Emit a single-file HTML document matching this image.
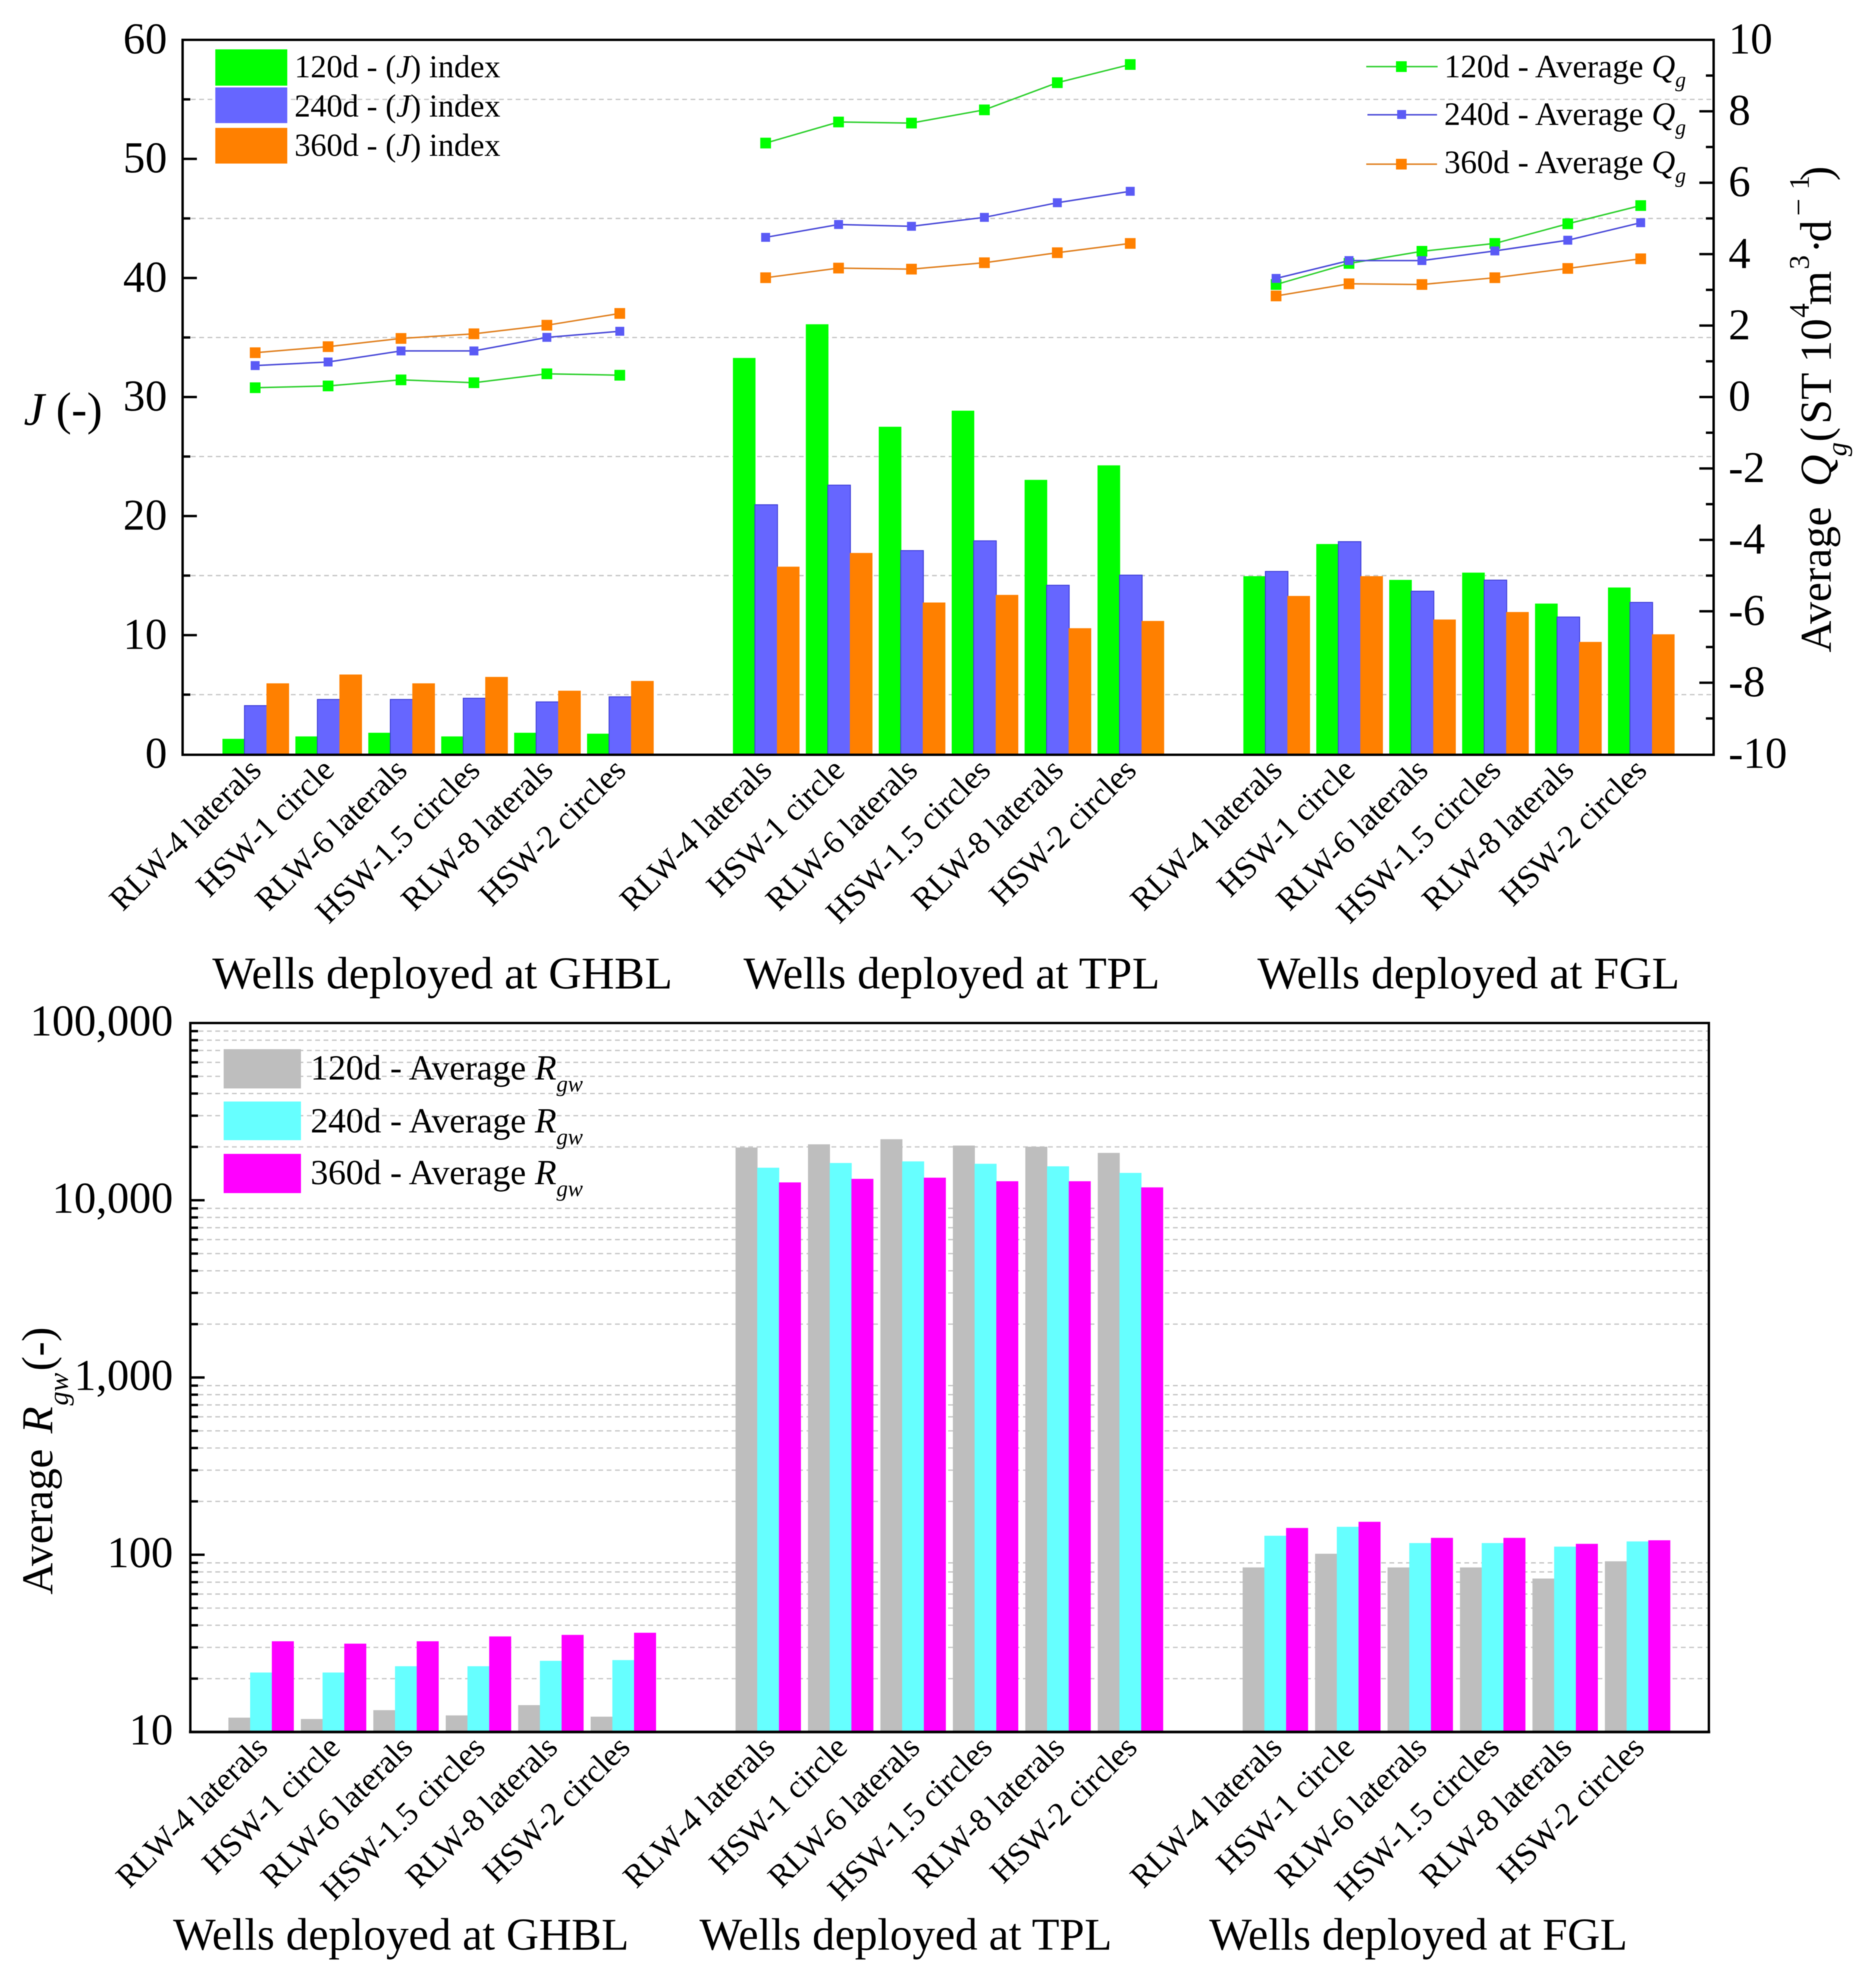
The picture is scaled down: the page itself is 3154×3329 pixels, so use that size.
<!DOCTYPE html>
<html lang="en">
<head>
<meta charset="utf-8">
<title>J index, average Qg and average Rgw for wells at GHBL, TPL and FGL</title>
<style>
  html, body { margin: 0; padding: 0; background: #ffffff; }
  svg { display: block; filter: blur(0.7px); }
  text { font-family: "Liberation Serif", serif; fill: #000000; }
  .lj { font-size: 54px; }
  .lg { font-size: 55px; }
  .lr { font-size: 59.5px; }
  .gt { font-size: 76.5px; }
  .gb { font-size: 75.8px; }
  .at { font-size: 74px; }
</style>
</head>
<body>
<svg id="figure" xmlns="http://www.w3.org/2000/svg" width="3154" height="3329" viewBox="0 0 3154 3329">
  <rect x="0" y="0" width="3154" height="3329" fill="#ffffff"/>
  <g id="grid-layer"></g>
  <g id="bar-layer"></g>
  <g id="line-layer"></g>
  <g id="axis-layer"></g>
  <g id="label-layer"></g>

  <g>
    <rect x="362" y="83" width="121" height="61" fill="#00ff00"/>
    <rect x="362" y="147" width="121" height="60" fill="#6666ff"/>
    <rect x="362" y="215" width="121" height="60" fill="#ff8000"/>
    <text class="lj" x="495" y="130">120d - (<tspan font-style="italic">J</tspan>) index</text>
    <text class="lj" x="495" y="196">240d - (<tspan font-style="italic">J</tspan>) index</text>
    <text class="lj" x="495" y="262">360d - (<tspan font-style="italic">J</tspan>) index</text>
  </g>

  <g>
    <line x1="2297" y1="112" x2="2417" y2="112" stroke="#2fd02f" stroke-width="2.5"/>
    <rect x="2347" y="103" width="18" height="18" fill="#00ff00"/>
    <line x1="2299" y1="193" x2="2416" y2="193" stroke="#4a4ad8" stroke-width="2.5"/>
    <rect x="2349" y="185" width="15" height="15" fill="#5a5af5"/>
    <line x1="2297" y1="276" x2="2416" y2="276" stroke="#e08020" stroke-width="2.5"/>
    <rect x="2347" y="267" width="18" height="18" fill="#ff8000"/>
    <text class="lg" x="2428" y="130">120d - Average <tspan font-style="italic">Q</tspan><tspan font-style="italic" font-size="36" dy="16">g</tspan></text>
    <text class="lg" x="2428" y="210">240d - Average <tspan font-style="italic">Q</tspan><tspan font-style="italic" font-size="36" dy="16">g</tspan></text>
    <text class="lg" x="2428" y="291">360d - Average <tspan font-style="italic">Q</tspan><tspan font-style="italic" font-size="36" dy="16">g</tspan></text>
  </g>

  <g>
    <rect x="376" y="1764" width="130" height="66" fill="#bebebe"/>
    <rect x="376" y="1852" width="130" height="65" fill="#66ffff"/>
    <rect x="376" y="1940" width="130" height="66" fill="#ff00ff"/>
    <text class="lr" x="522" y="1815">120d - Average <tspan font-style="italic">R</tspan><tspan font-style="italic" font-size="38" dy="20">gw</tspan></text>
    <text class="lr" x="522" y="1904">240d - Average <tspan font-style="italic">R</tspan><tspan font-style="italic" font-size="38" dy="20">gw</tspan></text>
    <text class="lr" x="522" y="1991">360d - Average <tspan font-style="italic">R</tspan><tspan font-style="italic" font-size="38" dy="20">gw</tspan></text>
  </g>

  <text font-size="78" x="40" y="714"><tspan font-style="italic">J</tspan> (-)</text>

  <text class="at" transform="translate(3078 1097) rotate(-90)"><tspan x="0" y="0">Average</tspan><tspan x="279" y="0" font-style="italic">Q</tspan><tspan x="330" y="26" font-style="italic" font-size="47">g</tspan><tspan x="354" y="0">(</tspan><tspan x="384" y="0">ST 10</tspan><tspan x="563" y="-37" font-size="48">4</tspan><tspan x="584" y="0">m</tspan><tspan x="644" y="-37" font-size="48">3</tspan><tspan x="671" y="0">·</tspan><tspan x="690" y="0">d</tspan><tspan x="734" y="-37" font-size="52">−</tspan><tspan x="778" y="-37" font-size="48">1</tspan><tspan x="793" y="0">)</tspan></text>

  <text class="at" transform="translate(88 2681) rotate(-90)"><tspan x="0" y="0">Average</tspan><tspan x="271" y="0" font-style="italic">R</tspan><tspan x="318" y="26" font-style="italic" font-size="47">gw</tspan><tspan x="376" y="0">(-)</tspan></text>

  <text class="gt" x="357" y="1662">Wells deployed at GHBL</text>
  <text class="gt" x="1250" y="1662">Wells deployed at TPL</text>
  <text class="gt" x="2114" y="1662">Wells deployed at FGL</text>
  <text class="gb" x="291" y="3278">Wells deployed at GHBL</text>
  <text class="gb" x="1176" y="3278">Wells deployed at TPL</text>
  <text class="gb" x="2033" y="3278">Wells deployed at FGL</text>
</svg>

<script>
// ---- Data ----
const wellCategories = ['RLW-4 laterals', 'HSW-1 circle', 'RLW-6 laterals', 'HSW-1.5 circles', 'RLW-8 laterals', 'HSW-2 circles'];
const deploymentGroups = ['GHBL', 'TPL', 'FGL'];

const jIndex120d = [1.29, 1.49, 1.80, 1.49, 1.80, 1.72, 33.28, 36.11, 27.50, 28.85, 23.04, 24.26, 14.95, 17.65, 14.64, 15.25, 12.65, 14.00];
const jIndex240d = [4.08, 4.60, 4.60, 4.70, 4.39, 4.82, 20.95, 22.60, 17.10, 17.92, 14.19, 15.04, 15.35, 17.85, 13.69, 14.62, 11.52, 12.75];
const jIndex360d = [5.95, 6.69, 5.95, 6.49, 5.33, 6.15, 15.75, 16.90, 12.74, 13.38, 10.58, 11.19, 13.29, 14.95, 11.31, 11.94, 9.43, 10.07];

const qg120d = [0.26, 0.31, 0.48, 0.40, 0.65, 0.61, 7.11, 7.70, 7.67, 8.04, 8.80, 9.31, 3.15, 3.74, 4.08, 4.30, 4.85, 5.36];
const qg240d = [0.88, 0.98, 1.29, 1.29, 1.67, 1.84, 4.47, 4.83, 4.78, 5.03, 5.44, 5.76, 3.32, 3.82, 3.82, 4.09, 4.39, 4.88];
const qg360d = [1.24, 1.41, 1.64, 1.77, 2.01, 2.34, 3.34, 3.61, 3.58, 3.76, 4.04, 4.30, 2.83, 3.17, 3.15, 3.34, 3.60, 3.87];

const rgw120d = [12.05, 11.84, 13.28, 12.4, 14.17, 12.2, 19840, 20680, 22100, 20350, 20050, 18500, 84.8, 101.3, 84.8, 84.8, 73.4, 91.8];
const rgw240d = [21.65, 21.65, 23.5, 23.5, 25.2, 25.45, 15260, 16230, 16570, 16060, 15540, 14270, 128, 143.8, 116.4, 116.4, 111.1, 118.9];
const rgw360d = [32.5, 31.5, 32.5, 34.6, 35.3, 36.3, 12610, 13210, 13410, 12800, 12800, 11820, 141.6, 153.4, 124.5, 124.5, 115.2, 120.7];

const jTicks = [0, 10, 20, 30, 40, 50, 60];
const jMinorTicks = [5, 15, 25, 35, 45, 55];
const qgTicks = [-10, -8, -6, -4, -2, 0, 2, 4, 6, 8, 10];
const qgMinorTicks = [-9, -7, -5, -3, -1, 1, 3, 5, 7, 9];
const rgwTicks = [10, 100, 1000, 10000, 100000];
const rgwTickLabels = ['10', '100', '1,000', '10,000', '100,000'];
const rgwMinorMultipliers = [2, 3, 4, 5, 6, 7, 8, 9];

// ---- Plot geometry and axis functions ----
const NS = 'http://www.w3.org/2000/svg';
const topPlot = { left: 307, right: 2881, top: 67, bottom: 1268 };
const botPlot = { left: 320, right: 2873, top: 1720, bottom: 2912 };
const GROUP_SLOTS = 7;

function slotOf(seriesIndex) {
  const perGroup = wellCategories.length;
  const group = Math.floor(seriesIndex / perGroup);
  return group * GROUP_SLOTS + (seriesIndex % perGroup);
}
function xTop(i) { return 374 + 122.6 * slotOf(i); }
function xBot(i) { return 384 + 121.8 * slotOf(i); }
function yJ(v) { return topPlot.bottom - (v / 60) * (topPlot.bottom - topPlot.top); }
function yQ(v) { return topPlot.bottom - ((v + 10) / 20) * (topPlot.bottom - topPlot.top); }
function yR(v) { return botPlot.bottom - (Math.log10(v) - 1) / 4 * (botPlot.bottom - botPlot.top); }

function svgEl(tag, attrs, parentId) {
  const el = document.createElementNS(NS, tag);
  Object.keys(attrs).forEach(function (k) { el.setAttribute(k, attrs[k]); });
  document.getElementById(parentId).appendChild(el);
  return el;
}
function drawGrid(y, x1, x2, name) {
  const g = svgEl('line', { x1: x1, y1: y, x2: x2, y2: y, stroke: '#c6c6c6', 'stroke-width': 2.2, 'stroke-dasharray': '8 6' }, 'grid-layer');
  
  
}
function drawTick(x1, x2, y, width, name) {
  const t = svgEl('line', { x1: x1, y1: y, x2: x2, y2: y, stroke: '#000000', 'stroke-width': width }, 'axis-layer');
  
  
}
function drawAxisLine(x1, y1, x2, y2, width, name) {
  const a = svgEl('line', { x1: x1, y1: y1, x2: x2, y2: y2, stroke: '#000000', 'stroke-width': width, 'stroke-linecap': 'square' }, 'axis-layer');
  
  
}
function drawTickLabel(x, y, anchor, content, name) {
  const l = svgEl('text', { x: x, y: y, 'text-anchor': anchor, 'font-size': 74 }, 'label-layer');
  l.textContent = content;
  
  
}

// ---- Gridlines and ticks: top plot ----
jMinorTicks.forEach(function (v) {
  drawGrid(yJ(v), topPlot.left + 14, topPlot.right, 'j-gridline-' + v);
  drawTick(topPlot.left, topPlot.left + 13, yJ(v), 4, 'j-minor-tick-' + v);
});
jTicks.forEach(function (v) {
  if (v !== 0 && v !== 60) drawTick(topPlot.left, topPlot.left + 24, yJ(v), 4, 'j-major-tick-' + v);
  drawTickLabel(281, yJ(v) + 23, 'end', String(v), 'j-tick-label-' + v);
});
qgMinorTicks.forEach(function (v) {
  drawTick(topPlot.right - 13, topPlot.right, yQ(v), 4, 'qg-minor-tick-' + v);
});
qgTicks.forEach(function (v) {
  if (v !== -10 && v !== 10) drawTick(topPlot.right - 24, topPlot.right, yQ(v), 4, 'qg-major-tick-' + v);
  drawTickLabel(2906, yQ(v) + 23, 'start', String(v), 'qg-tick-label-' + v);
});

// ---- Gridlines and ticks: bottom plot ----
rgwTicks.forEach(function (v, idx) {
  if (v !== 10 && v !== 100000) drawTick(botPlot.left, botPlot.left + 24, yR(v), 4, 'rgw-major-tick-' + v);
  drawTickLabel(291, yR(v) + 21, 'end', rgwTickLabels[idx], 'rgw-tick-label-' + v);
  if (idx < rgwTicks.length - 1) {
    rgwMinorMultipliers.forEach(function (m) {
      const value = v * m;
      drawGrid(yR(value), botPlot.left + 14, botPlot.right, 'rgw-gridline-' + value);
      drawTick(botPlot.left, botPlot.left + 13, yR(value), 4, 'rgw-minor-tick-' + value);
    });
  }
});

// ---- Bars ----
const BAR_W_TOP = 38;
const BAR_STEP_TOP = 37;
const BAR_W_BOT = 37;
const BAR_STEP_BOT = 36.5;

function drawTopBars(values, offsetIndex, fill, stroke, label) {
  values.forEach(function (v, i) {
    const y = yJ(v);
    const bar = svgEl('rect', { x: xTop(i) + BAR_STEP_TOP * offsetIndex, y: y, width: BAR_W_TOP, height: topPlot.bottom - y, fill: fill, stroke: stroke, 'stroke-width': stroke === 'none' ? 0 : 1.5 }, 'bar-layer');
    
    
  });
}
function drawBottomBars(values, offsetIndex, fill, label) {
  values.forEach(function (v, i) {
    const y = yR(v);
    const bar = svgEl('rect', { x: xBot(i) + BAR_STEP_BOT * offsetIndex, y: y, width: BAR_W_BOT, height: botPlot.bottom - y, fill: fill }, 'bar-layer');
    
    
  });
}
drawTopBars(jIndex120d, 0, '#00ff00', 'none', '120d');
drawTopBars(jIndex240d, 1, '#6666ff', '#3d3dd6', '240d');
drawTopBars(jIndex360d, 2, '#ff8000', 'none', '360d');
drawBottomBars(rgw120d, 0, '#bebebe', '120d');
drawBottomBars(rgw240d, 1, '#66ffff', '240d');
drawBottomBars(rgw360d, 2, '#ff00ff', '360d');

// ---- Qg lines with square markers ----
function drawQgSeries(values, lineColor, markerColor, markerSize, label) {
  const perGroup = wellCategories.length;
  deploymentGroups.forEach(function (group, g) {
    const pts = [];
    for (let c = 0; c < perGroup; c++) {
      const i = g * perGroup + c;
      pts.push((xTop(i) + 55) + ',' + yQ(values[i]));
    }
    const line = svgEl('polyline', { points: pts.join(' '), fill: 'none', stroke: lineColor, 'stroke-width': 2.5 }, 'line-layer');
    
    
  });
  values.forEach(function (v, i) {
    const m = svgEl('rect', { x: xTop(i) + 55 - markerSize / 2, y: yQ(v) - markerSize / 2, width: markerSize, height: markerSize, fill: markerColor }, 'line-layer');
    
    
  });
}
drawQgSeries(qg120d, '#2fd02f', '#00ff00', 18, '120d');
drawQgSeries(qg240d, '#4a4ad8', '#5a5af5', 15, '240d');
drawQgSeries(qg360d, '#e08020', '#ff8000', 18, '360d');

// ---- Axis frames ----
drawAxisLine(topPlot.left, topPlot.top, topPlot.right, topPlot.top, 4, 'top-plot-top-border');
drawAxisLine(topPlot.left, topPlot.top, topPlot.left, topPlot.bottom + 1, 4, 'j-axis-line');
drawAxisLine(topPlot.right, topPlot.top, topPlot.right, topPlot.bottom + 1, 4, 'qg-axis-line');
drawAxisLine(topPlot.left, topPlot.bottom + 1, topPlot.right, topPlot.bottom + 1, 4, 'top-plot-x-axis');
drawAxisLine(botPlot.left, botPlot.top, botPlot.right, botPlot.top, 4, 'bottom-plot-top-border');
drawAxisLine(botPlot.left, botPlot.top, botPlot.left, botPlot.bottom, 4, 'rgw-axis-line');
drawAxisLine(botPlot.right, botPlot.top, botPlot.right, botPlot.bottom, 4, 'bottom-plot-right-border');
drawAxisLine(botPlot.left, botPlot.bottom, botPlot.right, botPlot.bottom, 4.5, 'bottom-plot-x-axis');

// ---- Rotated category labels ----
for (let i = 0; i < wellCategories.length * deploymentGroups.length; i++) {
  const name = wellCategories[i % wellCategories.length];
  const tx = xTop(i) + 57 + 11;
  const ty = 1298;
  const a = svgEl('text', { x: 0, y: 0, 'text-anchor': 'end', 'font-size': 55, transform: 'translate(' + tx + ' ' + ty + ') rotate(-45)' }, 'label-layer');
  a.textContent = name;
  
  
  const bx = xBot(i) + 56 + 13;
  const by = 2941;
  const b = svgEl('text', { x: 0, y: 0, 'text-anchor': 'end', 'font-size': 55, transform: 'translate(' + bx + ' ' + by + ') rotate(-45)' }, 'label-layer');
  b.textContent = name;
  
  
}
</script>
</body>
</html>
